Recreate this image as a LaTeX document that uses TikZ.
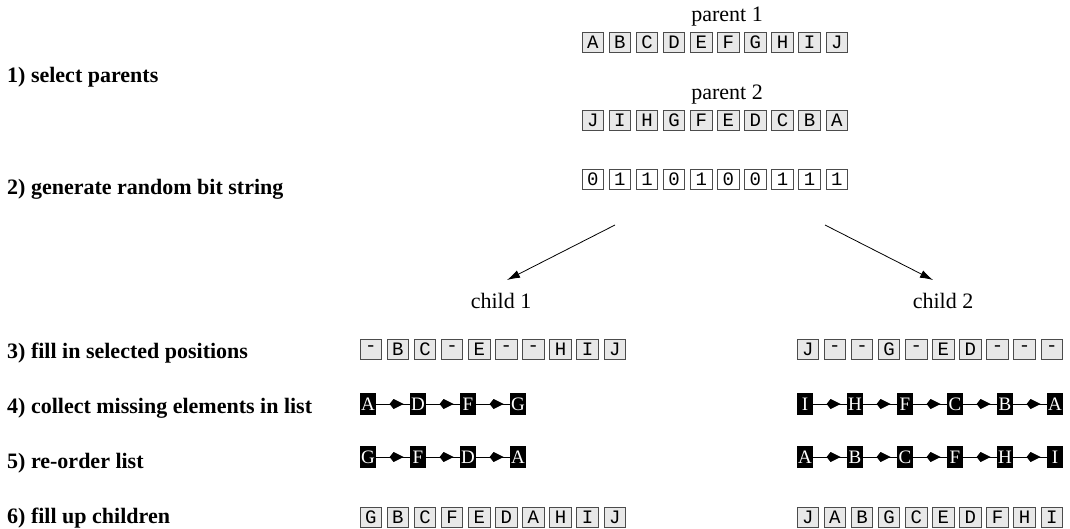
\documentclass[tikz,border=0pt]{standalone}
\usepackage{fontspec}
\setmainfont{Liberation Serif}
\setmonofont{Liberation Mono}
\usetikzlibrary{arrows.meta,decorations.markings}
\begin{document}
\begin{tikzpicture}[x=1pt,y=-1pt,
  lbl/.style={anchor=base west,inner sep=0pt,font=\fontsize{22}{26}\selectfont\bfseries},
  ttl/.style={anchor=base,inner sep=0pt,font=\fontsize{22}{26}\selectfont},
  cell/.style={draw=black!70,fill=black!9,line width=0.9pt,minimum width=21.5pt,minimum height=20pt,inner sep=0pt,font=\fontsize{19}{20}\selectfont\ttfamily},
  bitcell/.style={cell,fill=white},
  blk/.style={fill=black,text=white,minimum width=16.5pt,minimum height=22pt,inner sep=0pt,font=\fontsize{19}{22}\selectfont},
  link/.style={line width=0.9pt,postaction={decorate},decoration={markings,mark=at position 0.82 with {\arrow{Kite[length=14pt,width=10pt,inset=4pt]}}}},
  big/.style={line width=0.8pt,-{Latex[length=13pt,width=8pt]}}
]
\useasboundingbox (0,0) rectangle (1070,529);
% step labels
\node[lbl] (l1) at (7,83) {1) select parents};
\node[lbl] (l2) at (7,195) {2) generate random bit string};
\node[lbl] (l3) at (7,358) {3) fill in selected positions};
\node[lbl] (l4) at (7,413) {4) collect missing elements in list};
\node[lbl] (l5) at (7,468) {5) re-order list};
\node[lbl] (l6) at (7,523) {6) fill up children};
% titles
\node[ttl] (t1) at (727,22) {parent 1};
\node[ttl] (t2) at (727,100) {parent 2};
\node[ttl] (t3) at (501,308) {child 1};
\node[ttl] (t4) at (943,308) {child 2};
% parent rows
\foreach \t [count=\i from 0] in {A,B,C,D,E,F,G,H,I,J}
  \node[cell] (pa-\i) at (592.8+27.1*\i,42) {\t};
\foreach \t [count=\i from 0] in {J,I,H,G,F,E,D,C,B,A}
  \node[cell] (pb-\i) at (592.8+27.1*\i,120) {\t};
\foreach \t [count=\i from 0] in {0,1,1,0,1,0,0,1,1,1}
  \node[bitcell] (bit-\i) at (592.8+27.1*\i,179) {\t};
% arrows to children
\coordinate (s1) at (615,225);
\coordinate (e1) at (507,280);
\coordinate (s2) at (825,225);
\coordinate (e2) at (933,280);
\draw[big] (s1) -- (e1);
\draw[big] (s2) -- (e2);
% step 3
\foreach \t [count=\i from 0] in {-,B,C,-,E,-,-,H,I,J}
  \node[cell] (fa-\i) at (370.8+27.1*\i,349) {\t};
\foreach \t [count=\i from 0] in {J,-,-,G,-,E,D,-,-,-}
  \node[cell] (fb-\i) at (807.8+27.1*\i,349) {\t};
% step 4
\foreach \t [count=\i from 0] in {A,D,F,G}
  \node[blk] (ma-\i) at (368+50*\i,404) {\t};
\foreach \t [count=\i from 0] in {I,H,F,C,B,A}
  \node[blk] (mb-\i) at (805+50*\i,404) {\t};
\foreach \i [evaluate=\i as \j using int(\i+1)] in {0,1,2}
  \draw[link] (ma-\i) -- (ma-\j);
\foreach \i [evaluate=\i as \j using int(\i+1)] in {0,1,2,3,4}
  \draw[link] (mb-\i) -- (mb-\j);
% step 5
\foreach \t [count=\i from 0] in {G,F,D,A}
  \node[blk] (ra-\i) at (368+50*\i,457) {\t};
\foreach \t [count=\i from 0] in {A,B,C,F,H,I}
  \node[blk] (rb-\i) at (805+50*\i,457) {\t};
\foreach \i [evaluate=\i as \j using int(\i+1)] in {0,1,2}
  \draw[link] (ra-\i) -- (ra-\j);
\foreach \i [evaluate=\i as \j using int(\i+1)] in {0,1,2,3,4}
  \draw[link] (rb-\i) -- (rb-\j);
% step 6
\foreach \t [count=\i from 0] in {G,B,C,F,E,D,A,H,I,J}
  \node[cell] (ca-\i) at (370.8+27.1*\i,517) {\t};
\foreach \t [count=\i from 0] in {J,A,B,G,C,E,D,F,H,I}
  \node[cell] (cb-\i) at (807.8+27.1*\i,517) {\t};
\end{tikzpicture}
\end{document}
